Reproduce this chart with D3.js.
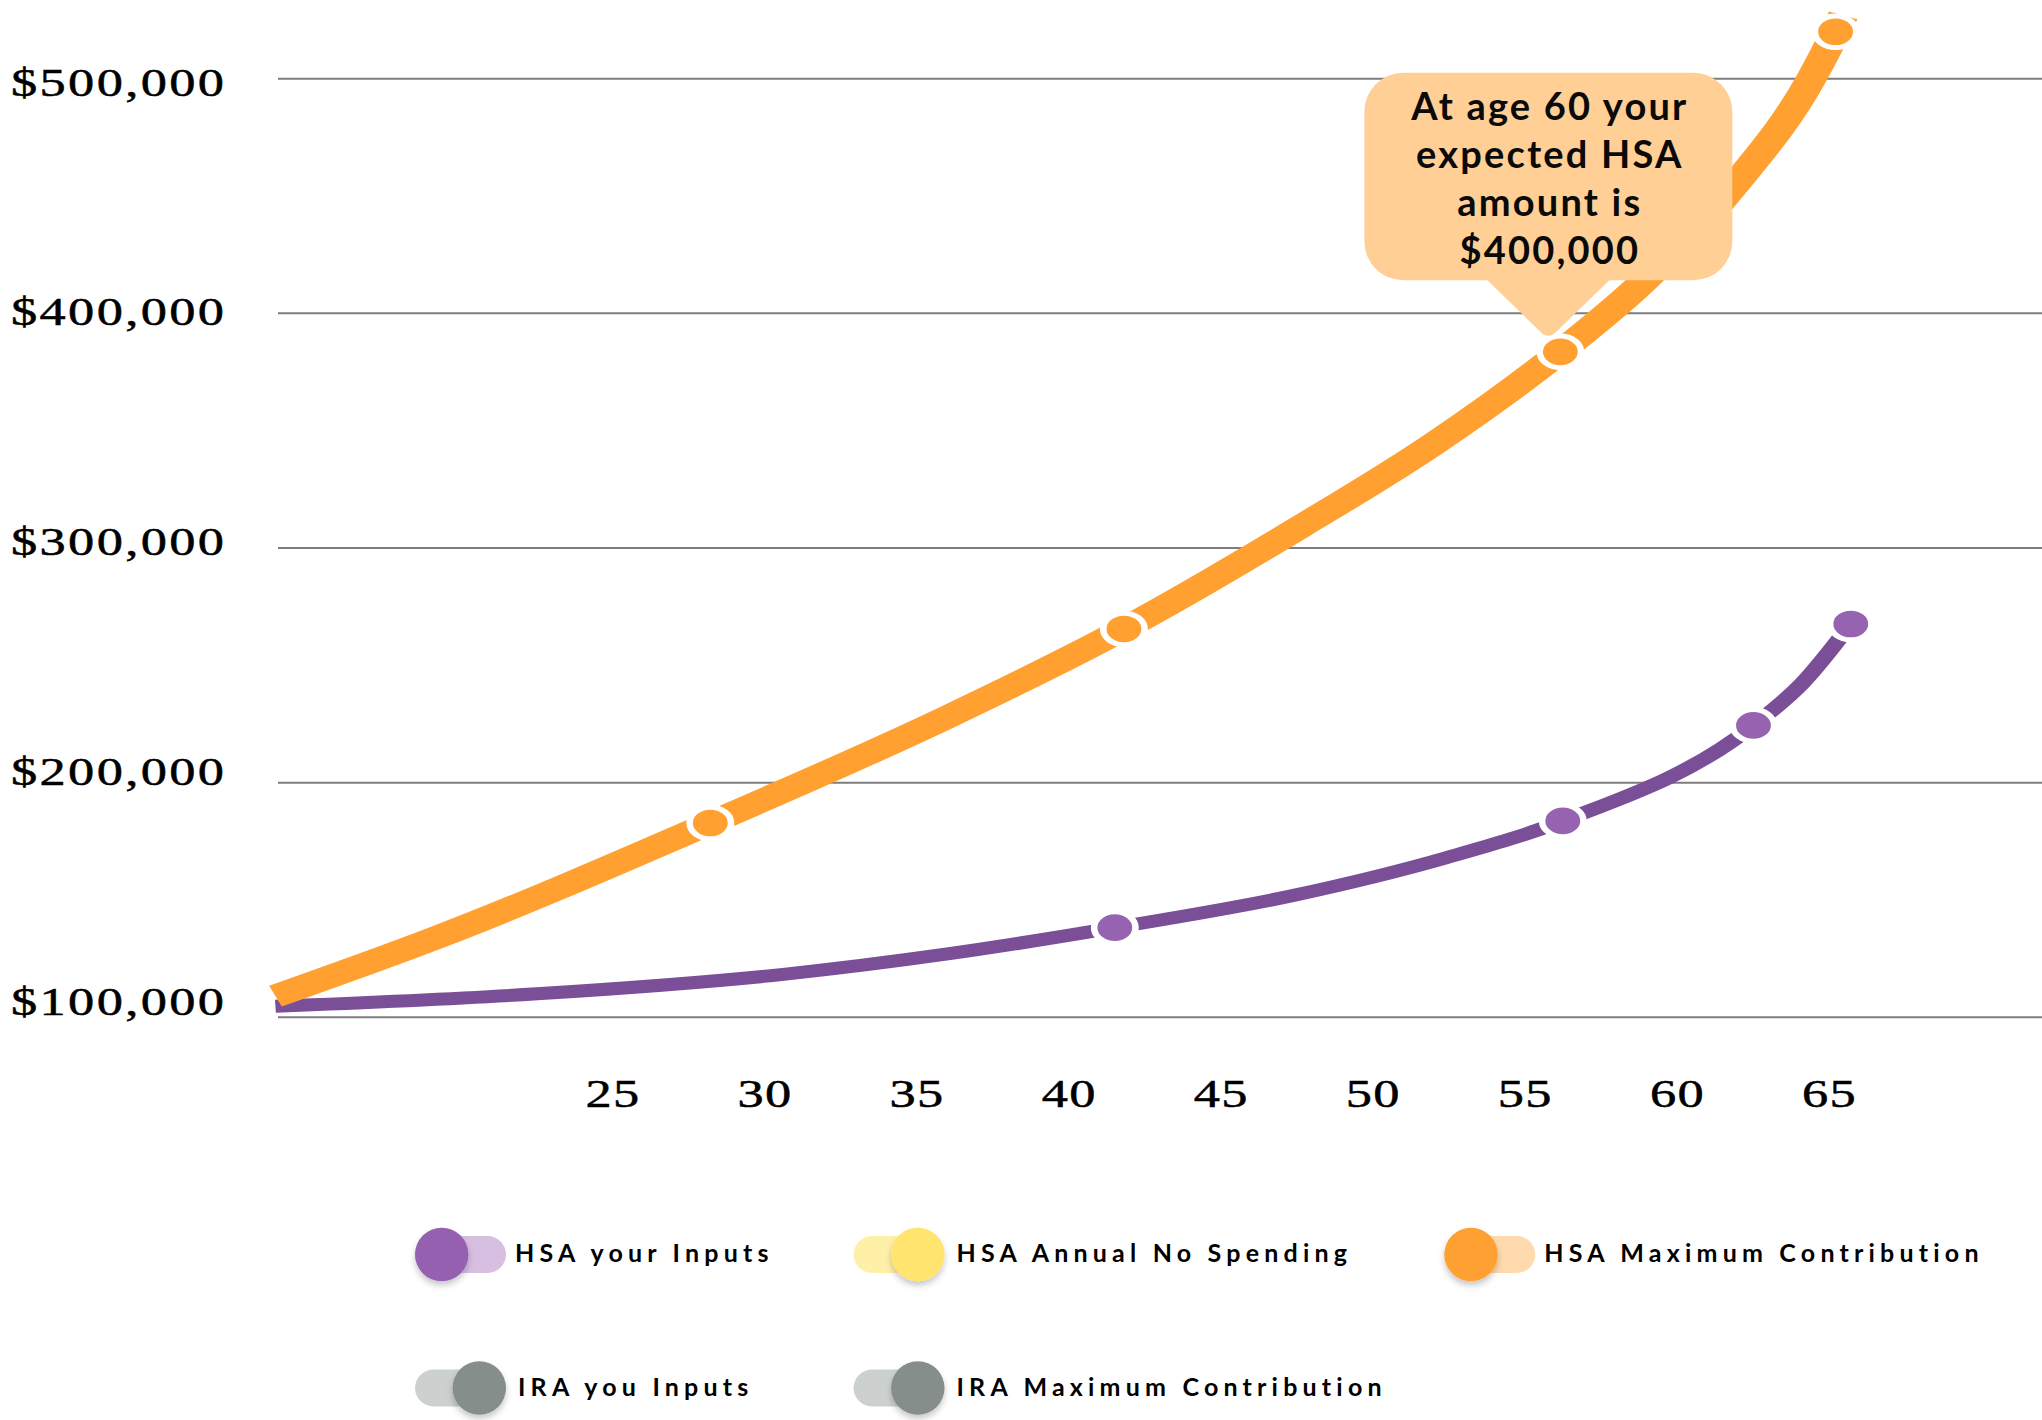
<!DOCTYPE html>
<html>
<head>
  <meta charset="utf-8">
  <title>HSA growth chart</title>
  <script src="https://d3js.org/d3.v7.min.js"></script>
  <style>
    body { margin: 0; background: #fff; }
    svg { display: block; }
  </style>
</head>
<body>
  <svg id="chart" width="2042" height="1420"></svg>

  <script>
    // HSA Maximum Contribution (orange line): age, balance
    const hsaMaxAges   = [13.9, 19.2, 28.2, 36.0, 41.8, 47.6, 52.0, 56.15, 58.8, 61.8, 64.4, 65.2, 65.45];
    const hsaMaxValues = [109000, 134000, 182800, 228000, 265500, 309000, 344500, 383600, 412500, 453500, 500000, 520000, 527000];
    const hsaMaxMarkers = [2, 4, 7, 11];

    // HSA your Inputs (purple line)
    const hsaInputAges   = [13.9, 22.5, 30.6, 36.0, 41.5, 47.4, 52.4, 56.23, 62.5, 64.1, 65.7];
    const hsaInputValues = [104700, 110000, 118300, 127000, 138200, 152000, 168000, 183700, 224400, 242300, 267600];
    const hsaInputMarkers = [4, 7, 8, 10];

    const yTicks = [100000, 200000, 300000, 400000, 500000];
    const xTicks = [25, 30, 35, 40, 45, 50, 55, 60, 65];

    const calloutLines = ["At age 60 your", "expected HSA", "amount is", "$400,000"];

    const legendLabels = ["HSA your Inputs", "HSA Annual No Spending", "HSA Maximum Contribution", "IRA you Inputs", "IRA Maximum Contribution"];
    const legendOn     = [true, false, true, false, false];
    const legendKnob   = ["#9561b0", "#ffe46f", "#ffa030", "#868e8b", "#868e8b"];
    const legendTrack  = ["#d6bfe1", "#fff0a8", "#ffdaad", "#ccd1cf", "#ccd1cf"];

    const width = 2042;
    const height = 1420;
    const SX = 1.31; // plot area is drawn stretched horizontally

    const svg = d3.select("#chart");

    const defs = svg.append("defs");
    const f = defs.append("filter").attr("id", "knobShadow")
      .attr("x", "-50%").attr("y", "-50%").attr("width", "200%").attr("height", "200%");
    f.append("feDropShadow").attr("dx", 0).attr("dy", 4).attr("stdDeviation", 3)
      .attr("flood-color", "#000").attr("flood-opacity", 0.22);

    const plot = svg.append("g").attr("transform", `scale(${SX},1)`);

    // scales
    const x = d3.scaleLinear().domain([25, 65]).range([613 / SX, 1829.5 / SX]);
    const y = d3.scaleLinear().domain([100000, 500000]).range([1017.3, 78.7]);
    const yLab = d3.scaleLinear().domain([100000, 500000]).range([1001.5, 82.5]);

    // grid lines
    plot.append("g")
      .selectAll("line")
      .data(yTicks)
      .join("line")
      .attr("x1", 278 / SX)
      .attr("x2", width / SX)
      .attr("y1", d => y(d))
      .attr("y2", d => y(d))
      .attr("stroke", "#7d7d7d")
      .attr("stroke-width", 2);

    // y labels
    plot.append("g")
      .selectAll("text")
      .data(yTicks)
      .join("text")
      .attr("x", 11 / SX)
      .attr("y", d => yLab(d))
      .attr("dy", "0.33em")
      .style("font-family", "'Liberation Serif', serif")
      .style("font-size", "40px")
      .style("letter-spacing", "1.8px")
      .attr("fill", "#000")
      .attr("stroke", "#000")
      .attr("stroke-width", 0.5)
      .text(d => d3.format("$,")(d));

    // x labels
    plot.append("g")
      .selectAll("text")
      .data(xTicks)
      .join("text")
      .attr("x", d => x(d))
      .attr("y", 1107)
      .attr("text-anchor", "middle")
      .style("font-family", "'Liberation Serif', serif")
      .style("font-size", "40px")
      .style("letter-spacing", "1px")
      .attr("fill", "#000")
      .attr("stroke", "#000")
      .attr("stroke-width", 0.5)
      .text(d => d);

    // lines
    const line = d3.line()
      .x(d => x(d[0]))
      .y(d => y(d[1]))
      .curve(d3.curveMonotoneX);

    const inputPts = d3.zip(hsaInputAges, hsaInputValues);
    const maxPts = d3.zip(hsaMaxAges, hsaMaxValues);

    plot.append("path")
      .datum(inputPts)
      .attr("d", line)
      .attr("fill", "none")
      .attr("stroke", "#7b4f97")
      .attr("stroke-width", 13);

    plot.append("path")
      .datum(maxPts)
      .attr("d", line)
      .attr("fill", "none")
      .attr("stroke", "#ffa030")
      .attr("stroke-width", 23);

    // markers
    plot.append("g")
      .selectAll("circle")
      .data(hsaInputMarkers.map(i => inputPts[i]))
      .join("circle")
      .attr("cx", d => x(d[0]))
      .attr("cy", d => y(d[1]))
      .attr("r", 15.8)
      .attr("fill", "#9563b0")
      .attr("stroke", "#fff")
      .attr("stroke-width", 5);

    plot.append("g")
      .selectAll("circle")
      .data(hsaMaxMarkers.map(i => maxPts[i]))
      .join("circle")
      .attr("cx", d => x(d[0]))
      .attr("cy", d => y(d[1]))
      .attr("r", 15.8)
      .attr("fill", "#ffa030")
      .attr("stroke", "#fff")
      .attr("stroke-width", 5);

    // callout pointing at the third orange marker
    const target = maxPts[hsaMaxMarkers[2]];
    const tipX = x(target[0]) * SX - 12;
    const tipY = y(target[1]) - 13;
    const boxBottom = tipY - 58.5;
    const boxTop = boxBottom - 207.6;
    const callout = svg.append("g");
    callout.append("rect")
      .attr("x", tipX - 184)
      .attr("y", boxTop)
      .attr("width", 368)
      .attr("height", boxBottom - boxTop)
      .attr("rx", 39)
      .attr("fill", "#ffcf96");
    callout.append("path")
      .attr("d", `M${tipX - 62},${boxBottom - 1} L${tipX - 9},${tipY - 8} Q${tipX},${tipY + 2} ${tipX + 9},${tipY - 8} L${tipX + 62},${boxBottom - 1} Z`)
      .attr("fill", "#ffcf96");
    callout.selectAll("text")
      .data(calloutLines)
      .join("text")
      .attr("x", tipX + 1.5)
      .attr("y", (d, i) => boxTop + 47.6 + i * 48)
      .attr("text-anchor", "middle")
      .style("font-family", "Lato, sans-serif")
      .style("font-weight", 700)
      .style("font-size", "38px")
      .style("letter-spacing", "2.2px")
      .attr("fill", "#0a0a0a")
      .text(d => d);

    // legend toggles
    const colLeft = [415, 853.5, 1444.3];
    const rowY = [1254.5, 1388];
    const cells = [[0, 0], [1, 0], [2, 0], [0, 1], [1, 1]];
    const trackW = 91, trackH = 37, knobR = 26.7;

    const legend = svg.append("g")
      .selectAll("g")
      .data(legendLabels)
      .join("g")
      .attr("transform", (d, i) => `translate(${colLeft[cells[i][0]]},${rowY[cells[i][1]]})`);

    legend.append("rect")
      .attr("x", 0)
      .attr("y", -trackH / 2)
      .attr("width", trackW)
      .attr("height", trackH)
      .attr("rx", trackH / 2)
      .attr("fill", (d, i) => legendTrack[i]);

    legend.append("circle")
      .attr("cx", (d, i) => legendOn[i] ? knobR : trackW - knobR)
      .attr("cy", 0)
      .attr("r", knobR)
      .attr("fill", (d, i) => legendKnob[i])
      .attr("filter", "url(#knobShadow)");

    legend.append("text")
      .attr("x", (d, i) => legendOn[i] ? 100 : 103)
      .attr("y", 7.8)
      .style("font-family", "Lato, sans-serif")
      .style("font-weight", 700)
      .style("font-size", "25px")
      .style("letter-spacing", "5.2px")
      .attr("fill", "#000")
      .text(d => d);
  </script>
</body>
</html>
